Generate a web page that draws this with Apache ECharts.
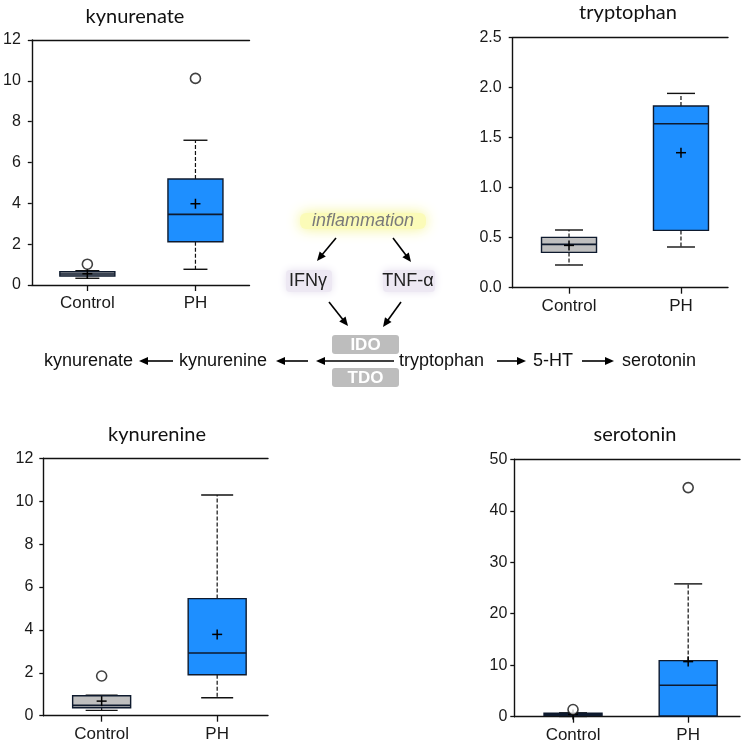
<!DOCTYPE html>
<html><head><meta charset="utf-8">
<script src="https://cdn.jsdelivr.net/npm/echarts@6/dist/echarts.min.js"></script>
<style>html,body{margin:0;padding:0;background:#fff}#main{width:742px;height:749px}</style>
</head><body><div id="main"></div>
<script>
// ---------- DATA ----------
const categories = ['Control', 'PH'];
// box stats per group: [lower whisker, Q1, median, Q3, upper whisker]
const kynurenateBox = [[0.33, 0.44, 0.54, 0.65, 0.70], [0.77, 2.12, 3.46, 5.19, 7.09]];
const kynurenateMean = [0.55, 3.98];
const kynurenateOutliers = [['Control', 1.02], ['PH', 10.12]];

const tryptophanBox = [[0.227, 0.353, 0.433, 0.503, 0.577], [0.407, 0.573, 1.64, 1.817, 1.943]];
const tryptophanMean = [0.423, 1.35];
const tryptophanOutliers = [];

const kynurenineBox = [[0.25, 0.37, 0.48, 0.93, 0.96], [0.84, 1.91, 2.92, 5.46, 10.29]];
const kynurenineMean = [0.68, 3.79];
const kynurenineOutliers = [['Control', 1.85]];

const serotoninBox = [[0.05, 0.27, 0.4, 0.66, 0.75], [0.1, 0.15, 6.1, 10.9, 25.8]];
const serotoninMean = [0.45, 10.7];
const serotoninOutliers = [['Control', 1.4], ['PH', 44.5]];

// y-axis scales [min, max, interval]
const kynurenateScale = [0, 12, 2];
const tryptophanScale = [0, 2.5, 0.5];
const kynurenineScale = [0, 12, 2];
const serotoninScale = [0, 50, 10];

// ---------- LAYOUT ----------
const panels = [
  {title: 'kynurenate', box: kynurenateBox, mean: kynurenateMean, out: kynurenateOutliers, scale: kynurenateScale, dec: 0,
   grid: {left: 30, top: 40, width: 219.5, height: 245}, xr: [0.486, 2.5], half: 27.5, cap: 12, lm: 11, tx: 135, ty: 17},
  {title: 'tryptophan', box: tryptophanBox, mean: tryptophanMean, out: tryptophanOutliers, scale: tryptophanScale, dec: 1,
   grid: {left: 512.7, top: 37.7, width: 215.3, height: 250}, xr: [0.497, 2.42], half: 27.5, cap: 14, lm: 11, tx: 628, ty: 13},
  {title: 'kynurenine', box: kynurenineBox, mean: kynurenineMean, out: kynurenineOutliers, scale: kynurenineScale, dec: 0,
   grid: {left: 43.3, top: 458.3, width: 224.7, height: 257.4}, xr: [0.495, 2.44], half: 29, cap: 16, lm: 10, tx: 157, ty: 435},
  {title: 'serotonin', box: serotoninBox, mean: serotoninMean, out: serotoninOutliers, scale: serotoninScale, dec: 0,
   grid: {left: 514.3, top: 459.3, width: 225.7, height: 257.4}, xr: [0.49, 2.45], half: 29, cap: 14, lm: 7, tx: 635, ty: 435}
];

const FONT = '"Liberation Sans", Arial, sans-serif';

function boxRender(halfW, capHalf) {
  return function (params, api) {
    const x = api.value(0);
    const lo = api.coord([x, api.value(1)]);
    const q1 = api.coord([x, api.value(2)]);
    const md = api.coord([x, api.value(3)]);
    const q3 = api.coord([x, api.value(4)]);
    const hi = api.coord([x, api.value(5)]);
    const mn = api.coord([x, api.value(6)]);
    const cx = q1[0];
    const fill = x === 1 ? '#BFBFBF' : '#1E8FFF';
    const dash = {stroke: '#111', lineWidth: 1.2, lineDash: [4, 2]};
    const solid = {stroke: '#111', lineWidth: 1.4};
    return {
      type: 'group',
      children: [
        {type: 'line', shape: {x1: cx, y1: q3[1], x2: cx, y2: hi[1]}, style: dash},
        {type: 'line', shape: {x1: cx, y1: q1[1], x2: cx, y2: lo[1]}, style: dash},
        {type: 'line', shape: {x1: cx - capHalf, y1: hi[1], x2: cx + capHalf, y2: hi[1]}, style: solid},
        {type: 'line', shape: {x1: cx - capHalf, y1: lo[1], x2: cx + capHalf, y2: lo[1]}, style: solid},
        {type: 'rect', shape: {x: cx - halfW, y: q3[1], width: 2 * halfW, height: Math.max(q1[1] - q3[1], 1)},
         style: {fill: fill, stroke: '#0e1a2e', lineWidth: 1.4}},
        {type: 'line', shape: {x1: cx - halfW, y1: md[1], x2: cx + halfW, y2: md[1]}, style: {stroke: '#0e1a2e', lineWidth: 1.6}},
        {type: 'line', shape: {x1: cx - 5, y1: mn[1], x2: cx + 5, y2: mn[1]}, style: {stroke: '#000', lineWidth: 1.5}},
        {type: 'line', shape: {x1: cx, y1: mn[1] - 5, x2: cx, y2: mn[1] + 5}, style: {stroke: '#000', lineWidth: 1.5}}
      ]
    };
  };
}

const grids = [], xAxes = [], yAxes = [], series = [], graphics = [];
panels.forEach((p, i) => {
  grids.push(Object.assign({containLabel: false}, p.grid));
  xAxes.push({
    type: 'value', gridIndex: i, position: 'bottom', min: p.xr[0], max: p.xr[1],
    axisLine: {show: true, onZero: false, lineStyle: {color: '#111', width: 1.4}},
    axisTick: {show: true, length: 6, lineStyle: {color: '#111', width: 1.3}, customValues: [1, 2]},
    axisLabel: {show: true, margin: 10, customValues: [1, 2], formatter: v => categories[Math.round(v) - 1] || '',
      color: '#1a1a1a', fontSize: 17, fontFamily: FONT},
    splitLine: {show: false}
  });
  xAxes.push({
    type: 'value', gridIndex: i, position: 'top', min: p.xr[0], max: p.xr[1],
    axisLine: {show: true, onZero: false, lineStyle: {color: '#111', width: 1.4}},
    axisTick: {show: false}, axisLabel: {show: false}, splitLine: {show: false}
  });
  yAxes.push({
    type: 'value', gridIndex: i, min: p.scale[0], max: p.scale[1], interval: p.scale[2],
    axisLine: {show: true, onZero: false, lineStyle: {color: '#111', width: 1.4}},
    axisTick: {show: true, length: 4, lineStyle: {color: '#111', width: 1.3}},
    axisLabel: {margin: p.lm, color: '#1a1a1a', fontSize: 16, fontFamily: FONT, formatter: v => v.toFixed(p.dec)},
    splitLine: {show: false}
  });
  const data = p.box.map((b, k) => [k + 1].concat(b).concat([p.mean[k]]));
  series.push({
    type: 'custom', xAxisIndex: 2 * i, yAxisIndex: i, renderItem: boxRender(p.half, p.cap),
    encode: {x: 0, y: [1, 2, 3, 4, 5, 6]}, data: data, silent: true, z: 2
  });
  series.push({
    type: 'scatter', xAxisIndex: 2 * i, yAxisIndex: i, symbol: 'circle', symbolSize: 10,
    itemStyle: {color: '#fff', borderColor: '#111', borderWidth: 1.6},
    data: p.out.map(o => [categories.indexOf(o[0]) + 1, o[1]]), z: 3, silent: true
  });
  graphics.push({type: 'text', x: p.tx, y: p.ty, style: {text: p.title, fontSize: 20, fontFamily: 'Lato, "Open Sans", sans-serif',
    fill: '#111', textAlign: 'center', textVerticalAlign: 'middle'}});
});

// ---------- PATHWAY DIAGRAM ----------
function arrow(x1, y1, x2, y2) {
  const L = 9, W = 4;
  const dx = x2 - x1, dy = y2 - y1, len = Math.hypot(dx, dy);
  const ux = dx / len, uy = dy / len;
  const bx = x2 - ux * L, by = y2 - uy * L;
  return [
    {type: 'line', shape: {x1: x1, y1: y1, x2: bx + ux * 1, y2: by + uy * 1}, style: {stroke: '#000', lineWidth: 1.6}},
    {type: 'polygon', shape: {points: [[x2, y2], [bx - uy * W, by + ux * W], [bx + uy * W, by - ux * W]]}, style: {fill: '#000'}}
  ];
}
const RY = 361;
const dfont = FONT;
function txt(t, x, y, opts) {
  return {type: 'text', x: x, y: y, style: Object.assign({text: t, fontSize: 18, fontFamily: dfont, fill: '#111',
    textAlign: 'left', textVerticalAlign: 'middle'}, opts || {})};
}
graphics.push(
  // glow behind "inflammation"
  {type: 'rect', shape: {x: 300, y: 213, width: 126, height: 16, r: 6},
   style: {fill: '#fbfbb8', shadowBlur: 14, shadowColor: '#f4f48e'}},
  txt('inflammation', 363, 221, {textAlign: 'center', fill: '#7a7a7a', fontStyle: 'italic', fontSize: 18}),
  {type: 'rect', shape: {x: 286, y: 270, width: 46, height: 22, r: 4}, style: {fill: '#ede8f3', shadowBlur: 8, shadowColor: '#e6e0ef'}},
  {type: 'rect', shape: {x: 383, y: 270, width: 52, height: 22, r: 4}, style: {fill: '#ede8f3', shadowBlur: 8, shadowColor: '#e6e0ef'}},
  txt('IFNγ', 308, 281, {textAlign: 'center', fill: '#222'}),
  txt('TNF-α', 408, 281, {textAlign: 'center', fill: '#222'}),
  // enzyme boxes
  {type: 'rect', shape: {x: 332, y: 335, width: 67, height: 19, r: 3}, style: {fill: '#bdbdbd'}},
  {type: 'rect', shape: {x: 332, y: 368, width: 67, height: 19, r: 3}, style: {fill: '#bdbdbd'}},
  txt('IDO', 365.5, 345, {textAlign: 'center', fill: '#fff', fontWeight: 'bold', fontSize: 17}),
  txt('TDO', 365.5, 378, {textAlign: 'center', fill: '#fff', fontWeight: 'bold', fontSize: 17}),
  // main row
  txt('kynurenate', 44, RY),
  txt('kynurenine', 179, RY),
  txt('tryptophan', 399, RY),
  txt('5-HT', 533, RY),
  txt('serotonin', 622, RY)
);
[].concat(
  arrow(336, 238, 317, 261),
  arrow(393, 238, 411, 262),
  arrow(329, 302, 348, 326),
  arrow(401, 302, 383, 327),
  arrow(173, RY, 139, RY),
  arrow(308, RY, 276, RY),
  arrow(394, RY, 316, RY),
  arrow(497, RY, 526, RY),
  arrow(582, RY, 614, RY)
).forEach(g => graphics.push(g));

const chart = echarts.init(document.getElementById('main'), null, {renderer: 'canvas'});
chart.setOption({
  animation: false,
  backgroundColor: '#fff',
  grid: grids,
  xAxis: xAxes,
  yAxis: yAxes,
  series: series,
  graphic: graphics
});
</script>
</body></html>
